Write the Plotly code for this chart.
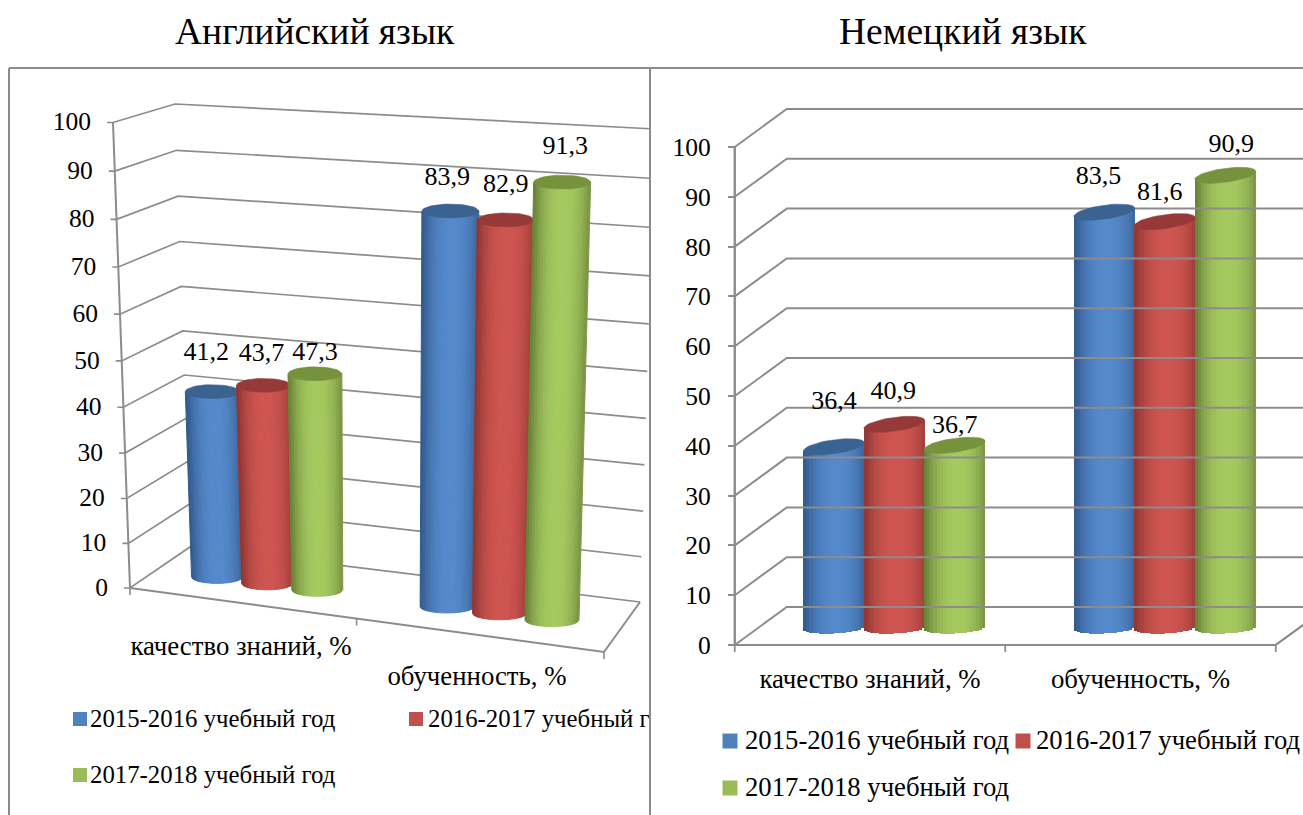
import numpy as np
import plotly.graph_objects as go

categories = ["качество знаний, %", "обученность, %"]
series_names = ["2015-2016 учебный год", "2016-2017 учебный год", "2017-2018 учебный год"]
english_2015 = [41.2, 83.9]
english_2016 = [43.7, 82.9]
english_2017 = [47.3, 91.3]
german_2015 = [36.4, 83.5]
german_2016 = [40.9, 81.6]
german_2017 = [36.7, 90.9]
value_ticks = [0, 10, 20, 30, 40, 50, 60, 70, 80, 90, 100]

W, H = 1303, 815
FONT = "Liberation Serif"
GRID = "#8c8c8c"
TXT = "#000000"
LEG = ["#4F81BD", "#C0504D", "#9BBB59"]
CAP = ["#3B6391", "#953A38", "#76923C"]
EDGE = [(52, 92, 142), (146, 56, 52), (108, 132, 58)]
MID = [(86, 138, 204), (208, 86, 82), (166, 202, 96)]
N = 20


def shade(s, t):
    f = np.clip(1 - abs(t - 0.08) ** 2.2, 0, 1) ** 0.9
    c = [EDGE[s][i] + (MID[s][i] - EDGE[s][i]) * f for i in range(3)]
    return "rgb(%d,%d,%d)" % tuple(c)


fig = go.Figure()
TH = np.linspace(0, 2 * np.pi, 49)
EDGES = np.linspace(-1, 1, N + 1)

# ---------------- left panel: perspective box, drawn in the panel's own coordinates
FLOOR = {"fl": (130, 588), "bl": (190, 547), "br": (640, 602), "fr": (604, 652)}
ROOF = {"fl": (113, 122.5), "bl": (175, 104), "br": (655, 129), "fr": (621, 157)}


def persp(v):
    a = v / 100
    return a * 0.952 / (1 - 0.048 * a)


def proj(u, w, v):
    a = persp(v)
    pts = []
    for i in range(2):
        f = (1 - u) * ((1 - w) * FLOOR["fl"][i] + w * FLOOR["bl"][i]) + u * ((1 - w) * FLOOR["fr"][i] + w * FLOOR["br"][i])
        r = (1 - u) * ((1 - w) * ROOF["fl"][i] + w * ROOF["bl"][i]) + u * ((1 - w) * ROOF["fr"][i] + w * ROOF["br"][i])
        pts.append(f + (r - f) * a)
    return pts


def line(x, y, xa, ya, width=1.6):
    fig.add_trace(go.Scatter(x=x, y=y, mode="lines", xaxis=xa, yaxis=ya, hoverinfo="skip",
                             line=dict(color=GRID, width=width), showlegend=False))


def label(x, y, text, size, xa, ya, pos="middle center"):
    fig.add_trace(go.Scatter(x=x, y=y, mode="text", text=text, textposition=pos,
                             textfont=dict(family=FONT, size=size, color=TXT), xaxis=xa, yaxis=ya,
                             hoverinfo="skip", showlegend=False))


def swatch(x, y, size, color, xa, ya):
    fig.add_trace(go.Scatter(x=[x], y=[y], mode="markers", marker=dict(symbol="square", size=size, color=color),
                             xaxis=xa, yaxis=ya, hoverinfo="skip", showlegend=False))


# left: walls
for v in value_ticks:
    a, b, c = proj(0, 0, v), proj(0, 1, v), proj(1, 1, v)
    line([a[0] - 6, a[0], b[0], c[0]], [a[1], a[1], b[1], c[1]], "x", "y", 1.7)
a, b = proj(0, 0, 0), proj(0, 0, 100)
line([a[0], b[0]], [a[1], b[1]], "x", "y", 2)
pts = [proj(0, 0, 0), proj(1, 0, 0), proj(1, 1, 0)]
line([p[0] for p in pts], [p[1] for p in pts], "x", "y", 2)
for u in (0, 0.478, 1):
    p = proj(u, 0, 0)
    line([p[0], p[0]], [p[1], p[1] + 7], "x", "y", 1.6)

label([proj(0, 0, v)[0] - 22 for v in value_ticks], [proj(0, 0, v)[1] + 1.5 for v in value_ticks],
      [str(v) for v in value_ticks], 25.5, "x", "y", "middle left")

english = [english_2015, english_2016, english_2017]
L_U = [[0.1235, 0.6215], [0.232, 0.735], [0.3405, 0.8485]]
L_HW = [25.5, 27]
L_LABEL_OFF = [[(-6, -38), (-3, -33)], [(-2, -31), (0, -34.5)], [(0, -20), (3, -35)]]
label_x, label_y, label_t = [], [], []
for c in range(2):
    for s in range(3):
        v = english[s][c]
        u = L_U[s][c]
        b = proj(u, 0.5, 0)
        b[1] += 2
        t = proj(u, 0.5, v)
        hw_b = L_HW[c]
        hw_t = hw_b * 1.055
        for k in range(N):
            t0, t1 = EDGES[k], EDGES[k + 1]
            tt = np.linspace(t1, t0, 5)
            px = [t[0] + t0 * hw_t, t[0] + t1 * hw_t] + list(b[0] + tt * hw_b) + [t[0] + t0 * hw_t]
            py = [t[1], t[1]] + list(b[1] + 6.5 * np.sqrt(np.clip(1 - tt ** 2, 0, 1))) + [t[1]]
            col = shade(s, (t0 + t1) / 2)
            fig.add_trace(go.Scatter(x=px, y=py, mode="lines", fill="toself", fillcolor=col,
                                     line=dict(color=col, width=1), xaxis="x", yaxis="y",
                                     hoverinfo="skip", showlegend=False))
        fig.add_trace(go.Scatter(x=t[0] + hw_t * np.cos(TH), y=t[1] + 7 * np.sin(TH), mode="lines", fill="toself",
                                 fillcolor=CAP[s], line=dict(color=CAP[s], width=0.5), xaxis="x", yaxis="y",
                                 hoverinfo="skip", showlegend=False))
        dx, dy = L_LABEL_OFF[s][c]
        label_x.append(t[0] + dx)
        label_y.append(t[1] + dy)
        label_t.append(f"{v:.1f}".replace(".", ","))
label(label_x, label_y, label_t, 26, "x", "y")
label([241, 477], [648, 678], categories, 26.8, "x", "y")
L_LEG = [(80, 719, 90), (416, 719, 428), (80, 775, 90)]
for s in range(3):
    mx, my, tx = L_LEG[s]
    swatch(mx, my, 14, LEG[s], "x", "y")
    label([tx], [my + 1.5], [series_names[s]], 24.8, "x", "y", "middle right")

# ---------------- right panel: real value axis and category axis
PX_PER_V = 4.98
PX_PER_C = 270.5
Y0, X0 = 645, 870
vpx = lambda dy: dy / PX_PER_V       # vertical pixels to value units
cpx = lambda dx: dx / PX_PER_C       # horizontal pixels to category units
DX, DV = cpx(52), vpx(38)
XL, XR = -0.5 + cpx(0), 1.5

for v in value_ticks:
    line([XL, XL + DX, 2.2], [v, v + DV, v + DV], "x2", "y2", 2)
line([XL, XL], [0, 100], "x2", "y2", 2.4)
line([XL, XR, XR + DX], [0, 0, DV], "x2", "y2", 2.2)
for x in (XL, 0.5, XR):
    line([x, x], [0, vpx(-7)], "x2", "y2", 1.8)

german = [german_2015, german_2016, german_2017]
R_SHIFT, R_STEP, R_W = 0.09, 0.2235, 0.2255
BASE = vpx(17)
R_LABEL_OFF = [[(0, -44), (-6, -35)], [(-1, -32), (-5, -28)], [(0, -19), (6, -30)]]
rl_x, rl_y, rl_t = [], [], []
for c in range(2):
    for s in range(3):
        v = german[s][c]
        cx = c + R_SHIFT + (s - 1) * R_STEP
        tmid = (EDGES[:-1] + EDGES[1:]) / 2
        xs = cx + tmid * R_W / 2
        widths = (EDGES[1:] - EDGES[:-1]) * R_W / 2
        bases = BASE - vpx(5.5 * np.sqrt(1 - tmid ** 2) - 1.5 * tmid)
        tops = v + BASE + vpx(4 * tmid)
        fig.add_trace(go.Bar(x=xs, y=tops - bases, base=bases, width=widths, xaxis="x2", yaxis="y2",
                             marker=dict(color=[shade(s, t) for t in tmid], line=dict(width=0)),
                             hoverinfo="skip", showlegend=False))
        fig.add_trace(go.Scatter(x=cx + R_W / 2 * np.cos(TH),
                                 y=v + BASE + vpx(7 * np.sin(TH) + 4 * np.cos(TH)),
                                 mode="lines", fill="toself", fillcolor=CAP[s], line=dict(color=CAP[s], width=0.5),
                                 xaxis="x2", yaxis="y2", hoverinfo="skip", showlegend=False))
        dx, dy = R_LABEL_OFF[s][c]
        rl_x.append(cx + cpx(dx))
        rl_y.append(v + BASE - vpx(dy))
        rl_t.append(f"{v:.1f}".replace(".", ","))
label(rl_x, rl_y, rl_t, 26, "x2", "y2")
R_LEG = [(730, 741, 745), (1023, 741, 1036), (730, 788, 745)]
for s in range(3):
    mx, my, tx = R_LEG[s]
    swatch(cpx(mx - X0), vpx(Y0 - my), 15, LEG[s], "x2", "y2")
    label([cpx(tx - X0)], [vpx(Y0 - my - 1.5)], [series_names[s]], 26.7, "x2", "y2", "middle right")

PTOP, PLEFT, PSPLIT = 68, 9, 650
fig.update_layout(
    width=W, height=H, autosize=False, margin=dict(l=0, r=0, t=0, b=0), barmode="overlay", bargap=0,
    paper_bgcolor="white", plot_bgcolor="rgba(0,0,0,0)", showlegend=False,
    xaxis=dict(domain=[PLEFT / W, PSPLIT / W], range=[PLEFT, PSPLIT], visible=False),
    yaxis=dict(domain=[0, 1 - PTOP / H], range=[H, PTOP], visible=False),
    xaxis2=dict(domain=[PSPLIT / W, 1], range=[cpx(PSPLIT - X0), cpx(W - X0)], anchor="free", position=1 - Y0 / H,
                tickmode="array", tickvals=[0, 1], ticktext=categories, ticks="", showgrid=False, zeroline=False,
                showline=False, tickfont=dict(family=FONT, size=26.8, color=TXT), ticklabelstandoff=15),
    yaxis2=dict(domain=[0, 1 - PTOP / H], range=[vpx(Y0 - H), vpx(Y0 - PTOP)], anchor="free",
                position=(X0 + XL * PX_PER_C) / W, tickmode="array", tickvals=value_ticks, ticks="outside", ticklen=7,
                tickwidth=1.8, tickcolor=GRID, showgrid=False, zeroline=False, showline=False,
                tickfont=dict(family=FONT, size=25.5, color=TXT), ticklabelstandoff=12),
    annotations=[
        dict(text="Английский язык", x=315 / W, y=1 - 32 / H, xref="paper", yref="paper", showarrow=False,
             xanchor="center", yanchor="middle", font=dict(family=FONT, size=37.5, color=TXT)),
        dict(text="Немецкий язык", x=963 / W, y=1 - 32 / H, xref="paper", yref="paper", showarrow=False,
             xanchor="center", yanchor="middle", font=dict(family=FONT, size=37.5, color=TXT)),
    ],
    shapes=[
        dict(type="line", xref="paper", yref="paper", x0=PLEFT / W, x1=1, y0=1 - PTOP / H, y1=1 - PTOP / H,
             line=dict(color=GRID, width=2)),
        dict(type="line", xref="paper", yref="paper", x0=PLEFT / W, x1=PLEFT / W, y0=0, y1=1 - PTOP / H,
             line=dict(color=GRID, width=2)),
        dict(type="line", xref="paper", yref="paper", x0=PSPLIT / W, x1=PSPLIT / W, y0=0, y1=1 - PTOP / H,
             line=dict(color=GRID, width=2)),
    ],
)
fig.write_html("out.html", config={"displayModeBar": False}, post_script="document.body.style.margin='0';")
